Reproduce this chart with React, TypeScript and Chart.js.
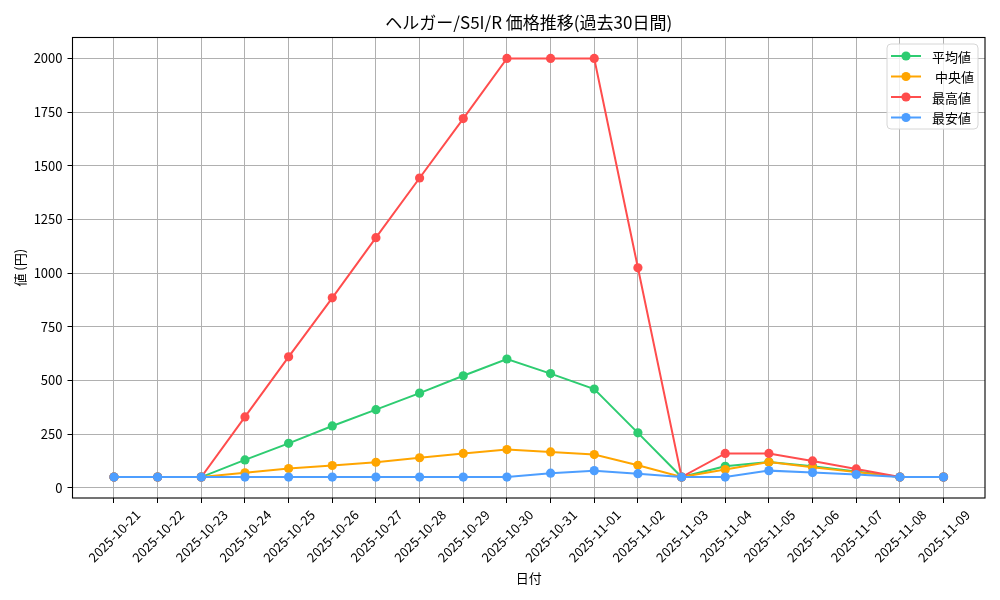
import { useEffect, useRef } from 'react';
import { Chart, registerables, type Plugin } from 'chart.js';

Chart.register(...registerables);

const FONT = '"Noto Sans CJK JP", "Noto Sans", sans-serif';

const title = 'ヘルガー/S5I/R 価格推移(過去30日間)';
const xTitle = '日付';
const yTitle = '値 (円)';

const dates = [
  '2025-10-21', '2025-10-22', '2025-10-23', '2025-10-24', '2025-10-25',
  '2025-10-26', '2025-10-27', '2025-10-28', '2025-10-29', '2025-10-30',
  '2025-10-31', '2025-11-01', '2025-11-02', '2025-11-03', '2025-11-04',
  '2025-11-05', '2025-11-06', '2025-11-07', '2025-11-08', '2025-11-09',
];

const avgValues = [50, 50, 50, 130, 207, 288, 364, 441, 522, 600, 532, 460, 256, 50, 100, 120, 100, 76, 50, 50];
const medianValues = [50, 50, 50, 70, 90, 104, 119, 140, 160, 178, 167, 155, 105, 50, 85, 120, 96, 73, 50, 50];
const maxValues = [50, 50, 50, 330, 610, 885, 1165, 1443, 1720, 2000, 2000, 2000, 1025, 50, 160, 160, 125, 88, 50, 50];
const minValues = [50, 50, 50, 50, 50, 50, 50, 50, 50, 50, 68, 80, 66, 50, 50, 80, 71, 62, 50, 50];

const yTicks = [0, 250, 500, 750, 1000, 1250, 1500, 1750, 2000];

const seriesNames = ['平均値', '中央値', '最高値', '最安値'];
const seriesColors = ['#2ecc71', '#ffa500', '#ff4d4d', '#4d9eff'];

// matplotlib-like frame, title, axis labels and legend
const decorPlugin: Plugin<'line'> = {
  id: 'decor',
  afterDatasetsDraw(chart) {
    const { ctx, chartArea: a } = chart;
    ctx.save();
    ctx.strokeStyle = '#000';
    ctx.lineWidth = 1.1;
    ctx.strokeRect(a.left, a.top, a.right - a.left, a.bottom - a.top);
    ctx.restore();
  },
  afterDraw(chart) {
    const { ctx, chartArea: a } = chart;
    ctx.save();
    ctx.fillStyle = '#000';
    ctx.textAlign = 'center';
    ctx.textBaseline = 'middle';
    ctx.font = `17px ${FONT}`;
    ctx.fillText(title, (a.left + a.right) / 2, 23);
    ctx.font = `13px ${FONT}`;
    ctx.fillText(xTitle, (a.left + a.right) / 2, 578);
    ctx.save();
    ctx.translate(20, (a.top + a.bottom) / 2);
    ctx.rotate(-Math.PI / 2);
    ctx.fillText(yTitle, 0, 0);
    ctx.restore();

    // legend box
    const bx = 887, by = 44, bw = 91, bh = 85;
    ctx.beginPath();
    ctx.roundRect(bx, by, bw, bh, 4);
    ctx.fillStyle = 'rgba(255,255,255,0.8)';
    ctx.fill();
    ctx.strokeStyle = '#d6d6d6';
    ctx.lineWidth = 1;
    ctx.stroke();
    ctx.textAlign = 'left';
    ctx.font = `13px ${FONT}`;
    seriesNames.forEach((name, i) => {
      const y = 56 + i * 20.5;
      ctx.strokeStyle = seriesColors[i];
      ctx.lineWidth = 2;
      ctx.beginPath();
      ctx.moveTo(891, y);
      ctx.lineTo(921, y);
      ctx.stroke();
      ctx.fillStyle = seriesColors[i];
      ctx.beginPath();
      ctx.arc(906, y, 4.6, 0, Math.PI * 2);
      ctx.fill();
      ctx.fillStyle = '#000';
      ctx.fillText(i === 1 ? ' ' + name : name, 932, y + 1);
    });
    ctx.restore();
  },
};

export default function App() {
  const canvasRef = useRef<HTMLCanvasElement>(null);

  useEffect(() => {
    if (!canvasRef.current) return;
    const series = [avgValues, medianValues, maxValues, minValues];
    const chart = new Chart(canvasRef.current, {
      type: 'line',
      data: {
        datasets: series.map((vals, i) => ({
          label: seriesNames[i],
          data: vals.map((v, j) => ({ x: j, y: v })),
          borderColor: seriesColors[i],
          backgroundColor: seriesColors[i],
          borderWidth: 2,
          pointRadius: 4.6,
          pointBorderWidth: 0,
          pointHoverRadius: 4.6,
          tension: 0,
          order: 3 - i,
        })),
      },
      options: {
        responsive: false,
        animation: false,
        events: [],
        layout: { padding: { top: 37.5, right: 15, left: 0, bottom: 0 } },
        plugins: {
          legend: { display: false },
          title: { display: false },
          tooltip: { enabled: false },
        },
        scales: {
          x: {
            type: 'linear',
            min: -0.95,
            max: 19.95,
            afterBuildTicks: (s) => {
              s.ticks = dates.map((_, i) => ({ value: i }));
            },
            afterFit: (s) => {
              s.height = 102;
            },
            border: { display: false },
            grid: { color: '#b0b0b0', lineWidth: 1, tickColor: '#000', tickLength: 5, drawTicks: true },
            ticks: {
              autoSkip: false,
              minRotation: 45,
              maxRotation: 45,
              labelOffset: 24,
              padding: 4,
              color: '#000',
              font: { family: FONT, size: 13 },
              callback: (v) => dates[Number(v)] ?? '',
            },
          },
          y: {
            type: 'linear',
            min: -47.5,
            max: 2097.5,
            afterBuildTicks: (s) => {
              s.ticks = yTicks.map((v) => ({ value: v }));
            },
            afterFit: (s) => {
              s.width = 72.5;
            },
            border: { display: false },
            grid: { color: '#b0b0b0', lineWidth: 1, tickColor: '#000', tickLength: 5, drawTicks: true },
            ticks: {
              padding: 5,
              color: '#000',
              font: { family: FONT, size: 13 },
              callback: (v) => String(v),
            },
          },
        },
      },
      plugins: [decorPlugin],
    });
    return () => chart.destroy();
  }, []);

  return (
    <div style={{ position: 'fixed', left: 0, top: 0, width: 1000, height: 600, background: '#fff' }}>
      <canvas ref={canvasRef} width={1000} height={600} />
    </div>
  );
}
